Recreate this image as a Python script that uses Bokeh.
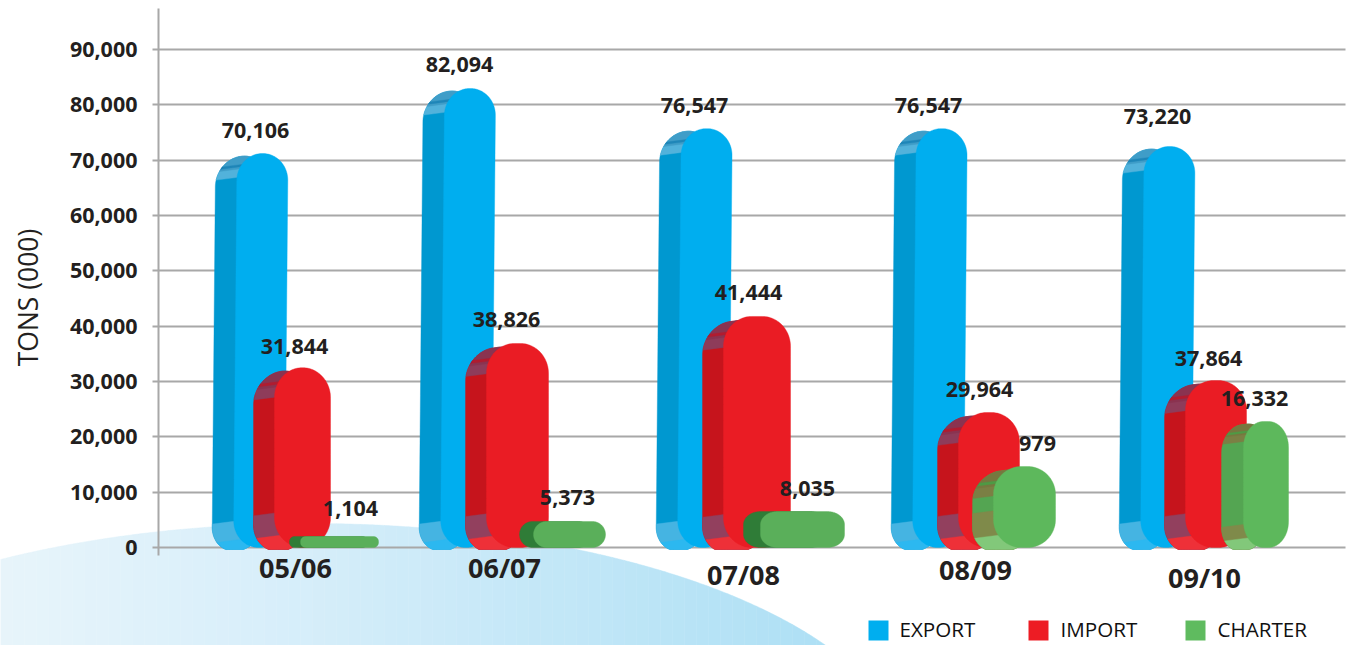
import numpy as np
from bokeh.plotting import figure
from bokeh.models import LinearAxis, FixedTicker, NumeralTickFormatter, Range1d
from bokeh.core.properties import value
from bokeh.embed import file_html
from bokeh.resources import INLINE

# ---- data ----
categories = ["05/06", "06/07", "07/08", "08/09", "09/10"]
export_labels = ["70,106", "82,094", "76,547", "76,547", "73,220"]
import_labels = ["31,844", "38,826", "41,444", "29,964", "37,864"]
charter_labels = ["1,104", "5,373", "8,035", "979", "16,332"]
export_heights = [71200, 82950, 75700, 75700, 72470]
import_heights = [32500, 36870, 41750, 24400, 30180]
charter_heights = [1990, 4700, 6500, 14640, 22770]
y_ticks = [0, 10000, 20000, 30000, 40000, 50000, 60000, 70000, 80000, 90000]
legend_names = ["EXPORT", "IMPORT", "CHARTER"]

# ---- layout (x axis of the figure runs in page pixels) ----
W, H = 1356, 645
PX = 90000 / 498.0            # tons per pixel
Y0 = 547
def v(pix):
    return (Y0 - pix) * PX

exp_x = [233, 440, 677, 912, 1140]
exp_w = [51, 51, 51, 51, 51]
imp_x = [274, 486, 723, 958, 1185]
imp_w = [56, 62, 67, 61, 61]
cha_x = [300, 533, 760, 993, 1243]
cha_w = [78, 72, 84, 62, 45]
cha_off = [11, 14, 17, 21, 22]
cha_r = [(5, 5), (13, 13), (17, 13), (28, 28), (20, 26)]
cha_k = [0, 0, 0, 0.13, 0.13]

exp_dy = [23, 24, 23, 23, 30]
imp_dy = [21, 24, 24, 23, 22]
cha_dy = [28, 24, 23, 23, 23]
exp_lx = [255, 459, 694, 928, 1157]
imp_lx = [294, 506, 748, 979, 1208]
cha_lx = [350, 567, 807, 1037, 1254]
cat_x = [295, 504, 743, 975, 1204]
cat_mid = [567, 567, 574, 569, 577]

INK = "#231f20"
GRID = "#a8a8a8"

p = figure(width=W, height=H, output_backend="svg", toolbar_location=None,
           x_range=Range1d(0, W), y_range=Range1d(v(H), v(0)),
           x_axis_location=None, y_axis_location=None,
           min_border=0, outline_line_color=None,
           styles={"position": "absolute", "left": "0px", "top": "0px"})
p.xgrid.visible = False

# background hill
cols_l = np.array([0xe8, 0xf5, 0xfb])
cols_m = np.array([0xd6, 0xee, 0xfa])
cols_r = np.array([0xae, 0xe0, 0xf5])
edges = np.arange(0, 840, 12)
bx, by, bc = [], [], []
for a, b in zip(edges[:-1], edges[1:]):
    xs = np.linspace(a, b, 5)
    t = np.clip(1 - ((xs - 310) / 600.0) ** 2, 0, 1)
    top = 773 - 250 * np.sqrt(t)
    mid = (a + b) / 2
    f = mid / 310 if mid < 310 else (mid - 310) / 520
    c = cols_l + (cols_m - cols_l) * f if mid < 310 else cols_m + (cols_r - cols_m) * f
    bx.append(list(xs) + [b, a])
    by.append(list(v(top)) + [v(H), v(H)])
    bc.append("#%02x%02x%02x" % tuple(int(i) for i in c))
p.patches(bx, by, fill_color=bc, line_color=bc, line_width=0.5, level="image")

# grid and axis
p.ygrid.ticker = FixedTicker(ticks=y_ticks)
p.ygrid.cross_bounds = (158, 1345)
p.ygrid.grid_line_color = GRID
p.ygrid.grid_line_width = 2

axis = LinearAxis(fixed_location=158, ticker=FixedTicker(ticks=y_ticks),
                  formatter=NumeralTickFormatter(format="0,0"),
                  bounds=(v(555), v(8)),
                  axis_line_color=GRID, axis_line_width=2,
                  major_tick_line_color=GRID, major_tick_line_width=2,
                  major_tick_out=6, major_tick_in=0, minor_tick_out=0, minor_tick_in=0,
                  major_label_standoff=15,
                  major_label_text_font="Open Sans", major_label_text_font_style="bold",
                  major_label_text_font_size="21.5px", major_label_text_color=INK)
p.add_layout(axis, "left")

SIDE_FLOOR = v(549)

def band(x0, w, top_v, r, lean, k, a, b, shift=0):
    """Part of a rounded column between values a and b, as a polygon."""
    rx, ry = r
    ry_v = ry * PX
    th = np.linspace(0, np.pi / 2, 40)
    ys = np.concatenate([np.linspace(a, b, 30),
                         top_v - ry_v + ry_v * np.sin(th),
                         ry_v - ry_v * np.sin(th)])
    ys = np.unique(ys[(ys >= a) & (ys <= b)])
    ins = np.zeros_like(ys)
    hi = ys > top_v - ry_v
    ins[hi] = rx * (1 - np.sqrt(np.clip(1 - ((ys[hi] - top_v + ry_v) / ry_v) ** 2, 0, 1)))
    lo = ys < ry_v
    ins[lo] = rx * (1 - np.sqrt(np.clip(1 - ((ry_v - ys[lo]) / ry_v) ** 2, 0, 1)))
    lean_x = lean * ys / PX
    xl = x0 - shift + ins + lean_x
    xr = x0 - shift + w - ins + lean_x
    right_end = x0 - shift + w
    yl = np.maximum(ys - k * (right_end - xl) * PX, SIDE_FLOOR)
    yr = np.maximum(ys - k * (right_end - xr) * PX, SIDE_FLOOR)
    return list(xl) + list(xr[::-1]), list(yl) + list(yr[::-1])

px, py, pc = [], [], []
def add(poly, color):
    px.append(poly[0]); py.append(poly[1]); pc.append(color)

def column(x0, w, top_v, r, lean, k, shift, front, body, cap, cap_up, hatch,
           low, lowest, cap_px, low_px, lowest_px):
    args = (x0, w, top_v, r, lean, k)
    add(band(*args, 0, top_v, shift), body)
    if cap_px:
        c = top_v - cap_px * PX
        add(band(*args, c, top_v, shift), cap)
        add(band(*args, top_v - cap_px * 0.6 * PX, top_v, shift), cap_up)
        add(band(*args, top_v - cap_px * 0.5 * PX, top_v - cap_px * 0.4 * PX, shift), hatch)
    if low_px:
        add(band(*args, 0, low_px * PX, shift), low)
        add(band(*args, 0, lowest_px * PX, shift), lowest)
    add(band(x0, w, top_v, r, lean, 0, 0, top_v), front)

for i in range(5):
    column(exp_x[i], exp_w[i], export_heights[i], (25, 27), 0.009, 0.13, 21.5,
           "#00aeef", "#0098d0", "#52b2db", "#3f9dc8", "#1f86b8",
           "#45b4e2", "#2cb8f0", 20.5, 30, 11)
for i in range(5):
    column(imp_x[i], imp_w[i], import_heights[i], (28, 30), 0, 0.13, 21,
           "#ea1c24", "#c6141c", "#8e3c5a", "#8a3350", "#b01c30",
           "#92405e", "#ee3038", 25, 39, 16)
for i in range(5):
    if cha_k[i]:
        column(cha_x[i], cha_w[i], charter_heights[i], cha_r[i], 0, cha_k[i], cha_off[i],
               "#5db85c", "#54a552", "#7b7f44", "#76783f", "#4f9a45",
               "#7f8a4a", "#82c87a", 24 if i == 3 else 17, 42 if i == 3 else 26, 17 if i == 3 else 12)
    else:
        column(cha_x[i], cha_w[i], charter_heights[i], cha_r[i], 0, 0, cha_off[i],
               "#5aaf5a", "#2f7c37", None, None, None, None, None, 0, 0, 0)

p.patches(px, py, fill_color=pc, line_color=pc, line_width=0.4)

# value labels
lab_font = dict(text_font=value("Open Sans"), text_font_style="bold", text_color=INK,
                text_font_size="21.5px", text_align="center", text_baseline="middle")
for lx, heights, dys, labs in [(exp_lx, export_heights, exp_dy, export_labels),
                               (imp_lx, import_heights, imp_dy, import_labels),
                               (cha_lx, charter_heights, cha_dy, charter_labels)]:
    p.text(x=lx, y=heights, text=labs, y_offset=[-d for d in dys], **lab_font)

# categories
p.text(x=cat_x, y=[v(b) for b in cat_mid], text=categories,
       text_font=value("Open Sans"), text_font_style="bold", text_color=INK,
       text_font_size="27px", text_align="center", text_baseline="middle")

# axis title
p.text(x=[27], y=[v(297)], text=["TONS (000)"], angle=np.pi / 2,
       text_font=value("Open Sans"), text_color=INK, text_font_size="26.5px",
       text_align="center", text_baseline="middle")

# legend
p.rect(x=[878, 1038, 1195], y=[v(630)] * 3, width=20, height=20,
       width_units="screen", height_units="screen",
       fill_color=["#00aeef", "#ed1c24", "#5fbb5f"], line_color=None)
p.text(x=[899, 1060, 1217], y=[v(628)] * 3, text=legend_names,
       text_font=value("Open Sans"), text_color="#111111", text_font_size="20.6px",
       text_align="left", text_baseline="middle")

open("out.html", "w").write(file_html(p, INLINE))
